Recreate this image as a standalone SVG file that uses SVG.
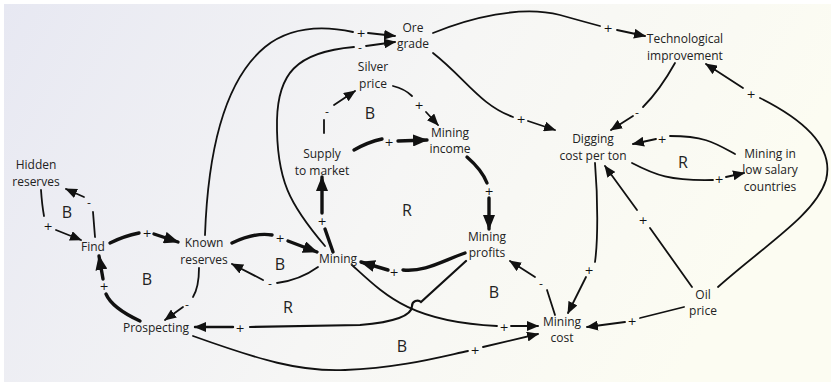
<svg xmlns="http://www.w3.org/2000/svg" width="831" height="382" viewBox="0 0 831 382">
<defs>
<linearGradient id="bg" x1="0" y1="0" x2="1" y2="0.25">
<stop offset="0" stop-color="#e7e8f2"/>
<stop offset="0.55" stop-color="#f6f6f5"/>
<stop offset="1" stop-color="#fcfcf2"/>
</linearGradient>
<marker id="a" markerUnits="userSpaceOnUse" markerWidth="12" markerHeight="10" refX="11" refY="5" orient="auto">
<path d="M0,0 L12,5 L0,10 Z" fill="#111"/>
</marker>
<marker id="A" markerUnits="userSpaceOnUse" markerWidth="15" markerHeight="12" refX="14" refY="6" orient="auto">
<path d="M0,0 L15,6 L0,12 Z" fill="#111"/>
</marker>
</defs>
<style>
.n{font-family:"Open Sans","Liberation Sans",sans-serif;font-size:12px;fill:#222;text-anchor:middle}
.l{font-family:"Open Sans","Liberation Sans",sans-serif;font-size:16px;fill:#222;text-anchor:middle}
.s{font-family:"DejaVu Sans","Liberation Sans",sans-serif;font-size:11px;fill:#111;text-anchor:middle}
.t{fill:none;stroke:#111;stroke-width:1.8;stroke-linecap:round}
.k{fill:none;stroke:#111;stroke-width:3.4;stroke-linecap:round}
.ta{marker-end:url(#a)}
.ka{marker-end:url(#A)}
</style>
<rect width="831" height="382" fill="#ffffff"/>
<rect x="4" y="4" width="827" height="378" fill="url(#bg)"/>

<g id="connectors">
<path class="t" d="M41,190 Q42,205 44,216"/><text class="s" x="48" y="230">+</text>
<path class="t ta" d="M56,230 L81,240"/>
<path class="t" d="M95,237 L93,212"/><text class="s" x="89" y="206">-</text>
<path class="t ta" d="M84,197 L66,189"/>
<path class="k" d="M110,243 Q124,236 139,233"/><text class="s" x="147" y="237">+</text>
<path class="k ka" d="M154,234 L178,242"/>
<path class="k" d="M140,321 Q112,308 106,294"/><text class="s" x="104" y="290">+</text>
<path class="k ka" d="M103,279 L99,256"/>
<path class="t" d="M199,268 Q199,287 193,297"/><text class="s" x="187" y="308">-</text>
<path class="t ta" d="M183,307 L165,320"/>
<path class="t" d="M205,235 C208,150 225,80 265,47 C290,27 320,25 353,32"/><text class="s" x="361" y="37">+</text>
<path class="t ta" d="M368,33 L395,36"/>
<path class="t" d="M325,246 C290,205 276,180 277,120 C278,75 295,52 354,47"/><text class="s" x="360" y="51">-</text>
<path class="t ta" d="M366,46 L395,42"/>
<path class="k" d="M333,252 L325,229"/><text class="s" x="322" y="225">+</text>
<path class="k ka" d="M322,213 L322,177"/>
<path class="t" d="M324,133 L324,120"/><text class="s" x="327" y="115">-</text>
<path class="t ta" d="M334,105 L355,91"/>
<path class="t" d="M393,86 Q405,89 412,96"/><text class="s" x="419" y="109">+</text>
<path class="t ta" d="M426,112 L438,125"/>
<path class="k" d="M354,150 Q368,142 382,139"/><text class="s" x="389" y="146">+</text>
<path class="k ka" d="M398,141 L427,140"/>
<path class="k" d="M467,157 Q482,170 487,183"/><text class="s" x="489" y="195">+</text>
<path class="k ka" d="M489,198 L489,229"/>
<path class="k" d="M465,253 C440,262 425,272 403,270"/><text class="s" x="394" y="276">+</text>
<path class="k ka" d="M388,270 L361,262"/>
<path class="t" d="M318,267 Q300,280 277,283"/><text class="s" x="270" y="287">-</text>
<path class="t ta" d="M263,280 L232,264"/>
<path class="k" d="M232,243 Q255,232 272,235"/><text class="s" x="280" y="242">+</text>
<path class="k ka" d="M288,241 L317,252"/>
<path class="t" d="M466,261 L421,302 C418,299 412,301 412,306 C412,316 395,322 360,325 L250,327" style="stroke-width:2.2"/><text class="s" x="240" y="332">+</text>
<path class="t ta" d="M233,327 L195,327" style="stroke-width:2.4"/>
<path class="t" d="M352,265 C385,295 410,322 497,326"/><text class="s" x="504" y="331">+</text>
<path class="t ta" d="M511,326 L538,326"/>
<path class="t" d="M193,336 C260,360 300,372 345,370 C400,368 440,357 468,351"/><text class="s" x="475" y="354">+</text>
<path class="t ta" d="M483,347 L538,334"/>
<path class="t" d="M555,315 L547,290"/><text class="s" x="541" y="287">-</text>
<path class="t ta" d="M535,277 L510,261"/>
<path class="t" d="M595,163 C598,200 598,240 595,262"/><text class="s" x="589" y="274">+</text>
<path class="t ta" d="M586,277 L568,313"/>
<path class="t" d="M692,287 L650,228"/><text class="s" x="643" y="224">+</text>
<path class="t ta" d="M637,210 L605,166"/>
<path class="t" d="M684,307 L640,318"/><text class="s" x="632" y="325">+</text>
<path class="t ta" d="M625,322 L587,327"/>
<path class="t" d="M718,287 C765,245 815,215 826,180 C835,145 800,118 760,98"/><text class="s" x="751" y="98">+</text>
<path class="t ta" d="M743,88 L706,64"/>
<path class="t" d="M675,63 Q660,90 643,107"/><text class="s" x="637" y="116">-</text>
<path class="t ta" d="M633,116 L611,130"/>
<path class="t" d="M433,33 C470,18 520,5 560,15 Q585,22 600,26"/><text class="s" x="608" y="32">+</text>
<path class="t ta" d="M617,30 L645,36"/>
<path class="t" d="M433,53 C465,78 480,105 513,117"/><text class="s" x="521" y="123">+</text>
<path class="t ta" d="M528,121 L555,130"/>
<path class="t" d="M735,154 C715,143 705,136 670,136"/><text class="s" x="662" y="143">+</text>
<path class="t ta" d="M656,139 L633,144"/>
<path class="t" d="M632,163 C655,175 670,181 713,180"/><text class="s" x="719" y="183">+</text>
<path class="t ta" d="M726,177 L744,173"/>
</g>

<g id="loops">
<text class="l" x="67" y="218">B</text>
<text class="l" x="147" y="285">B</text>
<text class="l" x="370" y="119">B</text>
<text class="l" x="407" y="216">R</text>
<text class="l" x="280" y="270">B</text>
<text class="l" x="288" y="313">R</text>
<text class="l" x="494" y="298">B</text>
<text class="l" x="402" y="352">B</text>
<text class="l" x="683" y="168">R</text>
</g>

<g id="hidden-reserves"><text class="n" x="36" y="169">Hidden</text><text class="n" x="36" y="186">reserves</text></g>
<g id="find"><text class="n" x="93" y="251">Find</text></g>
<g id="known-reserves"><text class="n" x="204" y="247">Known</text><text class="n" x="204" y="264">reserves</text></g>
<g id="prospecting"><text class="n" x="156" y="332">Prospecting</text></g>
<g id="mining"><text class="n" x="338" y="263">Mining</text></g>
<g id="supply"><text class="n" x="322" y="158">Supply</text><text class="n" x="322" y="175">to market</text></g>
<g id="silver-price"><text class="n" x="373" y="71">Silver</text><text class="n" x="373" y="88">price</text></g>
<g id="ore-grade"><text class="n" x="413" y="32">Ore</text><text class="n" x="413" y="48">grade</text></g>
<g id="mining-income"><text class="n" x="450" y="137">Mining</text><text class="n" x="450" y="153">income</text></g>
<g id="mining-profits"><text class="n" x="487" y="241">Mining</text><text class="n" x="487" y="257">profits</text></g>
<g id="mining-cost"><text class="n" x="562" y="326">Mining</text><text class="n" x="562" y="342">cost</text></g>
<g id="oil-price"><text class="n" x="703" y="299">Oil</text><text class="n" x="703" y="315">price</text></g>
<g id="digging-cost"><text class="n" x="593" y="143">Digging</text><text class="n" x="593" y="160">cost per ton</text></g>
<g id="tech"><text class="n" x="685" y="43">Technological</text><text class="n" x="685" y="60">improvement</text></g>
<g id="low-salary"><text class="n" x="770" y="158">Mining in</text><text class="n" x="770" y="174">low salary</text><text class="n" x="770" y="191">countries</text></g>
</svg>
